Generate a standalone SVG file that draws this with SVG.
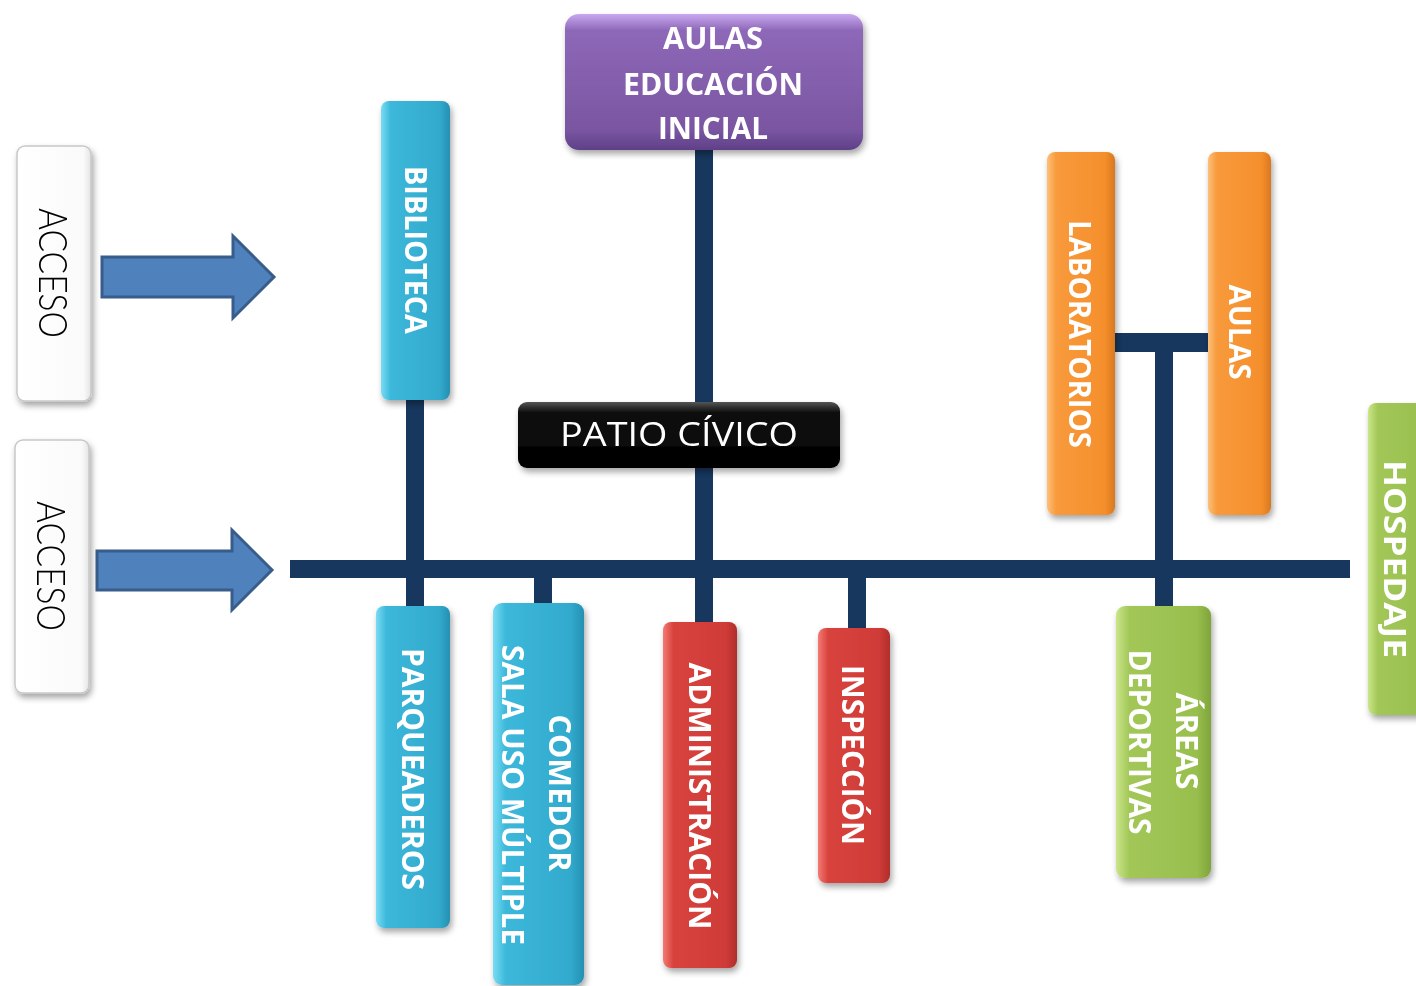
<svg xmlns="http://www.w3.org/2000/svg" width="1416" height="986" viewBox="0 0 1416 986">
<defs>
<filter id="sh" x="-20%" y="-20%" width="140%" height="140%">
<feDropShadow dx="2" dy="4" stdDeviation="3" flood-color="#000" flood-opacity="0.35"/>
</filter>
<linearGradient id="gCyan" x1="0" y1="0" x2="1" y2="0">
<stop offset="0" stop-color="#7adcf4"/><stop offset="0.14" stop-color="#3cb8da"/><stop offset="0.85" stop-color="#32aacd"/><stop offset="1" stop-color="#2590b2"/>
</linearGradient>
<linearGradient id="gRed" x1="0" y1="0" x2="1" y2="0">
<stop offset="0" stop-color="#f47a74"/><stop offset="0.14" stop-color="#d8433e"/><stop offset="0.85" stop-color="#cf3b37"/><stop offset="1" stop-color="#b02e2b"/>
</linearGradient>
<linearGradient id="gOrange" x1="0" y1="0" x2="1" y2="0">
<stop offset="0" stop-color="#fcc07a"/><stop offset="0.14" stop-color="#f89a3c"/><stop offset="0.85" stop-color="#f58f2c"/><stop offset="1" stop-color="#d8781f"/>
</linearGradient>
<linearGradient id="gGreen" x1="0" y1="0" x2="1" y2="0">
<stop offset="0" stop-color="#cbe68a"/><stop offset="0.14" stop-color="#a2c758"/><stop offset="0.85" stop-color="#98bf4e"/><stop offset="1" stop-color="#7fa43c"/>
</linearGradient>
<linearGradient id="gPurple" x1="0" y1="0" x2="0" y2="1">
<stop offset="0" stop-color="#c9a8f0"/><stop offset="0.12" stop-color="#8e68b8"/><stop offset="0.85" stop-color="#7a56a2"/><stop offset="1" stop-color="#5f4088"/>
</linearGradient>
<linearGradient id="gBlack" x1="0" y1="0" x2="0" y2="1">
<stop offset="0" stop-color="#555"/><stop offset="0.15" stop-color="#111"/><stop offset="1" stop-color="#000"/>
</linearGradient>
<linearGradient id="gWhite" x1="0" y1="0" x2="1" y2="0">
<stop offset="0" stop-color="#ffffff"/><stop offset="0.9" stop-color="#fafafa"/><stop offset="1" stop-color="#e4e4e4"/>
</linearGradient>
</defs>
<style>
.lbl{font-family:"Open Sans","Liberation Sans",sans-serif;font-weight:bold;font-size:30px;fill:#fff;text-anchor:middle}
.acc{font-family:"Lato","Liberation Sans",sans-serif;font-weight:300;font-size:40px;fill:#000;text-anchor:middle}
.patio{font-family:"Open Sans","Liberation Sans",sans-serif;font-size:33px;fill:#fff;text-anchor:middle}
.conn{fill:#17375e}
.arrow{fill:#4f81bd;stroke:#385d8a;stroke-width:3;stroke-linejoin:miter}
.box{filter:url(#sh)}
</style>

<g id="connectors">
<rect class="conn" x="290" y="560" width="1060" height="18"/>
<rect class="conn" x="406" y="398" width="18" height="210"/>
<rect class="conn" x="534" y="569" width="18" height="36"/>
<rect class="conn" x="695" y="148" width="18" height="478"/>
<rect class="conn" x="848" y="569" width="18" height="61"/>
<rect class="conn" x="1110" y="333" width="100" height="19"/>
<rect class="conn" x="1155" y="340" width="18" height="268"/>
</g>

<g id="arrows">
<polygon class="arrow" points="102,257 233,257 233,236 274,277 233,318 233,297 102,297"/>
<polygon class="arrow" points="97,551 232,551 232,530 272,570 232,610 232,590 97,590"/>
</g>

<g id="acceso1" class="box">
<rect x="17" y="146" width="74" height="255" rx="8" fill="url(#gWhite)" stroke="#c8c8c8" stroke-width="1.5"/>
<text class="acc" transform="translate(53,273) rotate(90)" dy="0.36em" textLength="130" lengthAdjust="spacingAndGlyphs">ACCESO</text>
</g>
<g id="acceso2" class="box">
<rect x="15" y="440" width="74" height="253" rx="8" fill="url(#gWhite)" stroke="#c8c8c8" stroke-width="1.5"/>
<text class="acc" transform="translate(51,566) rotate(90)" dy="0.36em" textLength="130" lengthAdjust="spacingAndGlyphs">ACCESO</text>
</g>

<g id="aulas-inicial" class="box">
<rect x="565" y="14" width="298" height="136" rx="14" fill="url(#gPurple)"/>
<text class="lbl" x="713" y="49" textLength="100" lengthAdjust="spacingAndGlyphs">AULAS</text>
<text class="lbl" x="713" y="95" textLength="180" lengthAdjust="spacingAndGlyphs">EDUCACIÓN</text>
<text class="lbl" x="713" y="139" textLength="110" lengthAdjust="spacingAndGlyphs">INICIAL</text>
</g>

<g id="biblioteca" class="box">
<rect x="381" y="101" width="69" height="299" rx="8" fill="url(#gCyan)"/>
<text class="lbl" transform="translate(416,250) rotate(90)" dy="0.36em" textLength="168" lengthAdjust="spacingAndGlyphs">BIBLIOTECA</text>
</g>

<g id="patio" class="box">
<rect x="518" y="402" width="322" height="66" rx="9" fill="url(#gBlack)"/>
<text class="patio" x="679" y="446" textLength="238" lengthAdjust="spacingAndGlyphs">PATIO CÍVICO</text>
</g>

<g id="laboratorios" class="box">
<rect x="1047" y="152" width="68" height="363" rx="8" fill="url(#gOrange)"/>
<text class="lbl" transform="translate(1080,334) rotate(90)" dy="0.36em" textLength="228" lengthAdjust="spacingAndGlyphs">LABORATORIOS</text>
</g>

<g id="aulas" class="box">
<rect x="1208" y="152" width="63" height="363" rx="8" fill="url(#gOrange)"/>
<text class="lbl" transform="translate(1240,332) rotate(90)" dy="0.36em" textLength="95" lengthAdjust="spacingAndGlyphs">AULAS</text>
</g>

<g id="hospedaje" class="box">
<rect x="1368" y="403" width="70" height="312" rx="8" fill="url(#gGreen)"/>
<text class="lbl" transform="translate(1395,559) rotate(90)" dy="0.36em" textLength="198" lengthAdjust="spacingAndGlyphs">HOSPEDAJE</text>
</g>

<g id="parqueaderos" class="box">
<rect x="376" y="606" width="74" height="322" rx="8" fill="url(#gCyan)"/>
<text class="lbl" transform="translate(413,769) rotate(90)" dy="0.36em" textLength="242" lengthAdjust="spacingAndGlyphs">PARQUEADEROS</text>
</g>

<g id="comedor" class="box">
<rect x="493" y="603" width="91" height="382" rx="9" fill="url(#gCyan)"/>
<text class="lbl" transform="translate(560,793) rotate(90)" dy="0.36em" textLength="157" lengthAdjust="spacingAndGlyphs">COMEDOR</text>
<text class="lbl" transform="translate(513,795) rotate(90)" dy="0.36em" textLength="300" lengthAdjust="spacingAndGlyphs">SALA USO MÚLTIPLE</text>
</g>

<g id="administracion" class="box">
<rect x="663" y="622" width="74" height="346" rx="8" fill="url(#gRed)"/>
<text class="lbl" transform="translate(700,796) rotate(90)" dy="0.36em" textLength="267" lengthAdjust="spacingAndGlyphs">ADMINISTRACIÓN</text>
</g>

<g id="inspeccion" class="box">
<rect x="818" y="628" width="72" height="255" rx="8" fill="url(#gRed)"/>
<text class="lbl" transform="translate(853,755) rotate(90)" dy="0.36em" textLength="180" lengthAdjust="spacingAndGlyphs">INSPECCIÓN</text>
</g>

<g id="areas-deportivas" class="box">
<rect x="1116" y="606" width="95" height="272" rx="9" fill="url(#gGreen)"/>
<text class="lbl" transform="translate(1187,741) rotate(90)" dy="0.36em" textLength="97" lengthAdjust="spacingAndGlyphs">ÁREAS</text>
<text class="lbl" transform="translate(1140,742) rotate(90)" dy="0.36em" textLength="185" lengthAdjust="spacingAndGlyphs">DEPORTIVAS</text>
</g>
</svg>
